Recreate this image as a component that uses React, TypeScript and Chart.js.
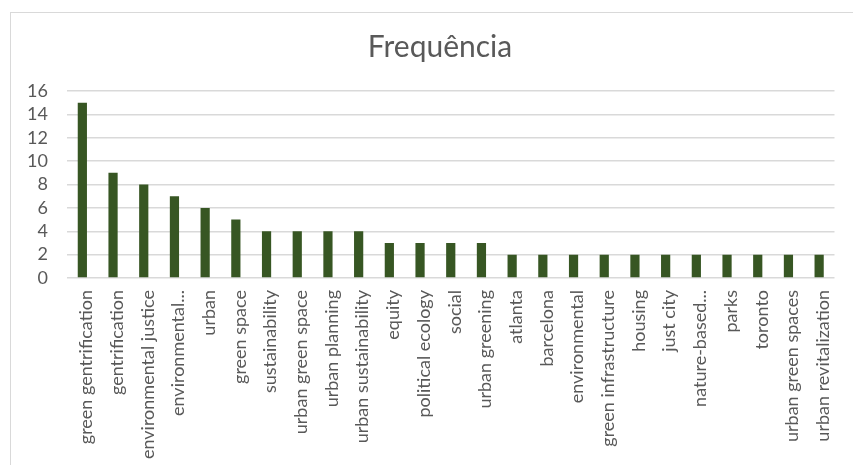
import React, { useEffect, useRef } from "react";
import { Chart, registerables } from "chart.js";

Chart.register(...registerables);

const categories: string[] = [
  "green gentrification",
  "gentrification",
  "environmental justice",
  "environmental...",
  "urban",
  "green space",
  "sustainability",
  "urban green space",
  "urban planning",
  "urban sustainability",
  "equity",
  "political ecology",
  "social",
  "urban greening",
  "atlanta",
  "barcelona",
  "environmental",
  "green infrastructure",
  "housing",
  "just city",
  "nature-based...",
  "parks",
  "toronto",
  "urban green spaces",
  "urban revitalization",
];

const frequencia: number[] = [15, 9, 8, 7, 6, 5, 4, 4, 4, 4, 3, 3, 3, 3, 2, 2, 2, 2, 2, 2, 2, 2, 2, 2, 2];

const title = "Frequência";
const yMin = 0;
const yMax = 16;
const yStep = 2;

const titlePlugin = {
  id: "centeredTitle",
  afterDraw(chart: any) {
    const ctx = chart.ctx;
    ctx.save();
    ctx.font = "normal 30px Lato";
    ctx.fillStyle = "#595959";
    ctx.textAlign = "center";
    ctx.textBaseline = "middle";
    ctx.fillText(title, 440, 47);
    ctx.restore();
  },
};

export default function App() {
  const ref = useRef<HTMLCanvasElement | null>(null);

  useEffect(() => {
    if (!ref.current) return;
    const chart = new Chart(ref.current, {
      type: "bar",
      data: {
        labels: categories,
        datasets: [
          {
            label: title,
            data: frequencia,
            backgroundColor: "#375623",
            borderColor: "#375623",
            borderWidth: 0,
            categoryPercentage: 1,
            barPercentage: 0.3,
          },
        ],
      },
      plugins: [titlePlugin],
      options: {
        responsive: false,
        maintainAspectRatio: false,
        animation: false,
        layout: { padding: { left: 0, right: 13, top: 91, bottom: 0 } },
        plugins: {
          legend: { display: false },
          tooltip: { enabled: false },
          title: { display: false },
        },
        scales: {
          x: {
            grid: { display: false, drawTicks: false },
            border: { display: false },
            ticks: {
              autoSkip: false,
              minRotation: 90,
              maxRotation: 90,
              padding: 12,
              labelOffset: 4,
              color: "#595959",
              font: { family: "Lato", size: 18 },
            },
            afterFit: (scale: any) => {
              scale.height = 187;
            },
          },
          y: {
            min: yMin,
            max: yMax,
            grid: { color: "#d9d9d9", lineWidth: 1.5, drawTicks: false },
            border: { display: false },
            ticks: {
              stepSize: yStep,
              autoSkip: false,
              padding: 19,
              color: "#595959",
              font: { family: "Lato", size: 18 },
            },
            afterFit: (scale: any) => {
              scale.width = 67;
            },
          },
        },
      },
    });
    return () => chart.destroy();
  }, []);

  return (
    <div
      style={{
        position: "fixed",
        left: 0,
        top: 0,
        width: 853,
        height: 465,
        overflow: "hidden",
        background: "#ffffff",
      }}
    >
      <div
        style={{
          position: "absolute",
          left: 10,
          top: 12,
          width: 900,
          height: 600,
          border: "1px solid #d9d9d9",
        }}
      />
      <canvas
        ref={ref}
        width={853}
        height={465}
        style={{ position: "absolute", left: 0, top: 0, width: 853, height: 465 }}
      />
    </div>
  );
}
